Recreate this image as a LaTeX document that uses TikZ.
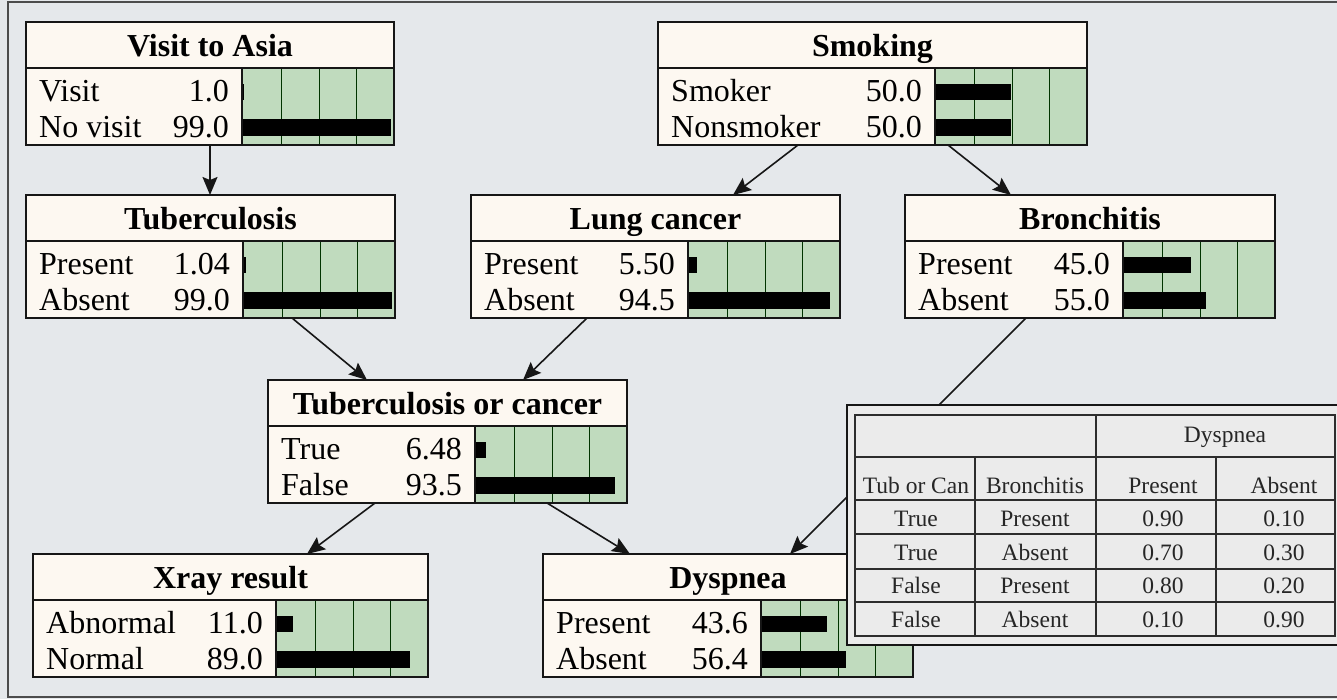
\documentclass[tikz,border=0pt]{standalone}
\usepackage{fontspec}
\setmainfont{Liberation Serif}
\usetikzlibrary{calc,arrows.meta}

\definecolor{bgcol}{RGB}{229,232,235}
\definecolor{cream}{RGB}{253,248,241}
\definecolor{barbg}{RGB}{192,219,190}
\definecolor{ink}{RGB}{22,22,22}
\definecolor{panel}{RGB}{235,235,235}

\tikzset{
  bnbox/.style={anchor=north west, inner sep=0pt, outer sep=0pt, fill=cream, minimum height=123pt},
  bnline/.style={draw=ink, line width=1.6pt},
  gridln/.style={draw=black!80!green, line width=0.9pt},
  barfill/.style={fill=black},
  ttl/.style={font=\fontsize{32}{36}\selectfont\bfseries, anchor=base, inner sep=0pt},
  lbl/.style={font=\fontsize{32}{36}\selectfont, anchor=base west, inner sep=0pt},
  val/.style={font=\fontsize{32}{36}\selectfont, anchor=base east, inner sep=0pt},
  edge/.style={draw=ink, line width=1.6pt, -{Stealth[length=18pt,width=15pt,inset=3pt]}},
  tbl/.style={draw=ink!90, line width=1.3pt},
  cell/.style={font=\fontsize{23.5}{26}\selectfont, text=black!85, anchor=base, inner sep=0pt},
}

% #1 name, #2 left, #3 top, #4 width, #5 title, #6/#7 first state and value, #8/#9 second state and value
\newcommand{\netnode}[9]{%
  \node[bnbox, minimum width=#4pt] (#1) at (#2,#3) {};
  \coordinate (#1-bar) at ($(#1.north east)+(-152,46)$);
  \fill[barbg] (#1-bar) rectangle (#1.south east);
  \foreach \g in {39,77,114} \draw[gridln] ($(#1-bar)+(\g,0)$) -- ($(#1-bar)+(\g,77)$);
  \fill[barfill] ($(#1-bar)+(1,16)$) rectangle ++({1.49*#7},16);
  \fill[barfill] ($(#1-bar)+(1,51)$) rectangle ++({1.49*#9},17);
  \draw[bnline] ($(#1.north west)+(0,46)$) -- ($(#1.north east)+(0,46)$);
  \draw[bnline] (#1-bar) -- ($(#1-bar)+(0,77)$);
  \draw[bnline] (#1.north west) rectangle (#1.south east);
  \node[ttl] at ($(#1.north)+(0,34)$) {#5};
  \node[lbl] at ($(#1.north west)+(13,79)$) {#6};
  \node[val] at ($(#1-bar)+(-13,33)$) {#7};
  \node[lbl] at ($(#1.north west)+(13,115)$) {#8};
  \node[val] at ($(#1-bar)+(-13,69)$) {#9};
}

\begin{document}
\begin{tikzpicture}[x=1pt,y=-1pt]
  % backdrop and frame
  \fill[bgcol] (0,0) rectangle (1337,699);
  \useasboundingbox (0,0) rectangle (1337,699);
  \draw[line width=1.5pt, draw=black!70] (1337,2) -- (8,2) -- (8,697) -- (1337,697);

  % network nodes
  \netnode{asia}{26}{22}{368}{Visit to Asia}{Visit}{1.0}{No visit}{99.0}
  \netnode{smoking}{658}{22}{429}{Smoking}{Smoker}{50.0}{Nonsmoker}{50.0}
  \netnode{tub}{26}{195}{369}{Tuberculosis}{Present}{1.04}{Absent}{99.0}
  \netnode{lung}{471}{195}{369}{Lung cancer}{Present}{5.50}{Absent}{94.5}
  \netnode{bronc}{905}{195}{370}{Bronchitis}{Present}{45.0}{Absent}{55.0}
  \netnode{tbc}{268}{380}{359}{Tuberculosis or cancer}{True}{6.48}{False}{93.5}
  \netnode{xray}{33}{554}{395}{Xray result}{Abnormal}{11.0}{Normal}{89.0}
  \netnode{dysp}{543}{554}{370}{Dyspnea}{Present}{43.6}{Absent}{56.4}

  % dependencies
  \draw[edge] ($(asia.south west)+(184,0)$) -- ($(tub.north west)+(184,0)$);
  \draw[edge] ($(smoking.south west)+(140,0)$) -- ($(lung.north west)+(262,0)$);
  \draw[edge] ($(smoking.south west)+(290,0)$) -- ($(bronc.north west)+(106,0)$);
  \draw[edge] ($(tub.south west)+(266,0)$) -- ($(tbc.north west)+(99,0)$);
  \draw[edge] ($(lung.south west)+(116,0)$) -- ($(tbc.north west)+(255,0)$);
  \draw[edge] ($(tbc.south west)+(107,0)$) -- ($(xray.north west)+(274,0)$);
  \draw[edge] ($(tbc.south west)+(279,0)$) -- ($(dysp.north west)+(87,0)$);
  \draw[edge] ($(bronc.south west)+(121,0)$) -- ($(dysp.north west)+(247,0)$);

  % conditional probability table for Dyspnea
  \draw[fill=panel, draw=ink, line width=1.5pt] (847,405) rectangle (1350,645);
  \draw[tbl] (855,415) rectangle (1335,636);
  \foreach \yy in {457,500,534,569,602} \draw[tbl] (855,\yy) -- (1335,\yy);
  \draw[tbl] (975,457) -- (975,636);
  \draw[tbl] (1096,415) -- (1096,636);
  \draw[tbl] (1216,457) -- (1216,636);

  \node[cell] at (1225,442) {Dyspnea};
  \node[cell] at (916,493) {Tub or Can};
  \node[cell] at (1035,493) {Bronchitis};
  \node[cell] at (1163,493) {Present};
  \node[cell] at (1284,493) {Absent};

  \node[cell] at (916,526) {True};  \node[cell] at (1035,526) {Present};
  \node[cell] at (1163,526) {0.90}; \node[cell] at (1284,526) {0.10};
  \node[cell] at (916,560) {True};  \node[cell] at (1035,560) {Absent};
  \node[cell] at (1163,560) {0.70}; \node[cell] at (1284,560) {0.30};
  \node[cell] at (916,593) {False}; \node[cell] at (1035,593) {Present};
  \node[cell] at (1163,593) {0.80}; \node[cell] at (1284,593) {0.20};
  \node[cell] at (916,627) {False}; \node[cell] at (1035,627) {Absent};
  \node[cell] at (1163,627) {0.10}; \node[cell] at (1284,627) {0.90};
\end{tikzpicture}
\end{document}
